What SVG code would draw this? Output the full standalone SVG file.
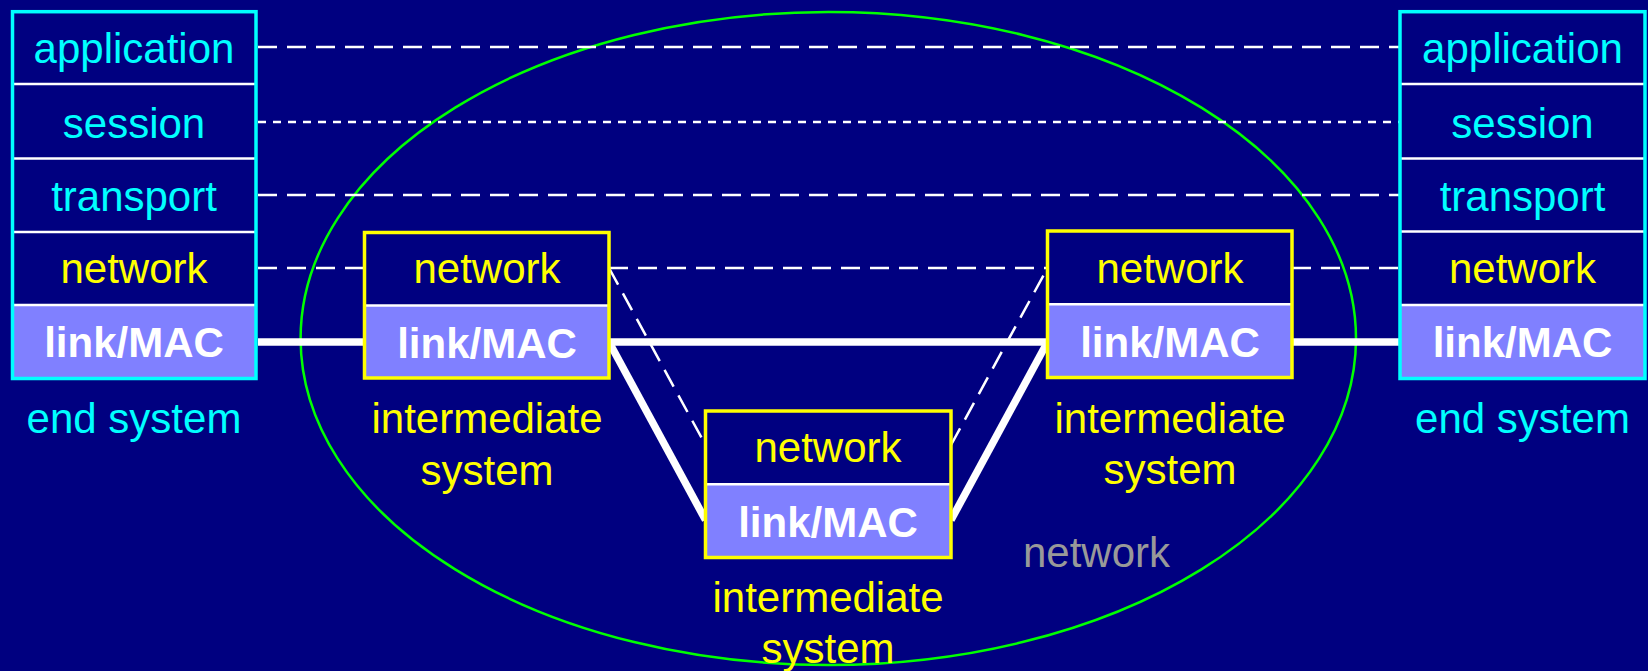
<svg xmlns="http://www.w3.org/2000/svg" width="1648" height="671" viewBox="0 0 1648 671">
<style>
text{font-family:"Liberation Sans",Arial,Helvetica,sans-serif;font-size:42px;text-anchor:middle}
.c{fill:#00ffff}
.y{fill:#ffff00}
.w{fill:#ffffff;font-weight:bold}
.g{fill:#999999}
.lnk{fill:#8080ff}
.div{stroke:#ffffff;stroke-width:2.5}
.eb{fill:none;stroke:#00ffff;stroke-width:3.5}
.ib{fill:none;stroke:#ffff00;stroke-width:3.5}
.dl{stroke:#ffffff;stroke-width:2.5;stroke-dasharray:19 10;fill:none}
.ds{stroke:#ffffff;stroke-width:2.5;stroke-dasharray:8 7;fill:none}
.sl{stroke:#ffffff;stroke-width:7.5;fill:none}
</style>
<rect width="1648" height="671" fill="#000080"/>
<ellipse id="network-cloud" cx="828.3" cy="338.5" rx="527.7" ry="326.5" fill="none" stroke="#00ff00" stroke-width="2.5"/>
<g id="connectors">
<line class="dl" x1="258" y1="47" x2="1400" y2="47"/>
<line class="ds" x1="258" y1="122" x2="1400" y2="122"/>
<line class="dl" x1="258" y1="195" x2="1400" y2="195"/>
<line class="dl" x1="258" y1="268" x2="364.5" y2="268"/>
<line class="dl" x1="609" y1="268" x2="1047.5" y2="268"/>
<line class="dl" x1="1292" y1="268" x2="1400" y2="268"/>
<line class="dl" x1="609" y1="268" x2="705.5" y2="445"/>
<line class="dl" x1="951" y1="445" x2="1047.5" y2="268"/>
<line class="sl" x1="258" y1="342" x2="364.5" y2="342"/>
<line class="sl" x1="609" y1="342" x2="1047.5" y2="342"/>
<line class="sl" x1="1292" y1="342" x2="1400" y2="342"/>
<line class="sl" x1="609" y1="342" x2="705.5" y2="520"/>
<line class="sl" x1="951" y1="520" x2="1047.5" y2="342"/>
</g>
<g id="end-system-left">
<rect class="lnk" x="12.5" y="305" width="243.5" height="73.5"/>
<line class="div" x1="12.5" y1="84" x2="256" y2="84"/>
<line class="div" x1="12.5" y1="158.5" x2="256" y2="158.5"/>
<line class="div" x1="12.5" y1="232" x2="256" y2="232"/>
<line class="div" x1="12.5" y1="305" x2="256" y2="305"/>
<rect class="eb" x="12.5" y="11.7" width="243.5" height="366.8"/>
<text class="c" x="134" y="63">application</text>
<text class="c" x="134" y="138">session</text>
<text class="c" x="134" y="211">transport</text>
<text class="y" x="134" y="283">network</text>
<text class="w" x="134" y="357">link/MAC</text>
<text class="c" x="134" y="433">end system</text>
</g>
<g id="intermediate-1">
<rect class="lnk" x="364.5" y="305.5" width="244.5" height="72.5"/>
<line class="div" x1="364.5" y1="305.5" x2="609" y2="305.5"/>
<rect class="ib" x="364.5" y="232.5" width="244.5" height="145.5"/>
<text class="y" x="487" y="283">network</text>
<text class="w" x="487" y="358">link/MAC</text>
<text class="y" x="487" y="433">intermediate</text>
<text class="y" x="487" y="485">system</text>
</g>
<g id="intermediate-2">
<rect class="lnk" x="705.5" y="484.3" width="245.5" height="73.2"/>
<line class="div" x1="705.5" y1="484.3" x2="951" y2="484.3"/>
<rect class="ib" x="705.5" y="411" width="245.5" height="146.5"/>
<text class="y" x="828" y="462.3">network</text>
<text class="w" x="828" y="536.7">link/MAC</text>
<text class="y" x="828" y="612.3">intermediate</text>
<text class="y" x="828" y="663">system</text>
</g>
<g id="intermediate-3">
<rect class="lnk" x="1047.5" y="304.3" width="244.5" height="73.2"/>
<line class="div" x1="1047.5" y1="304.3" x2="1292" y2="304.3"/>
<rect class="ib" x="1047.5" y="231" width="244.5" height="146.5"/>
<text class="y" x="1170" y="282.7">network</text>
<text class="w" x="1170" y="356.7">link/MAC</text>
<text class="y" x="1170" y="432.7">intermediate</text>
<text class="y" x="1170" y="484">system</text>
</g>
<g id="end-system-right">
<rect class="lnk" x="1400" y="305" width="245" height="73.5"/>
<line class="div" x1="1400" y1="84" x2="1645" y2="84"/>
<line class="div" x1="1400" y1="158.5" x2="1645" y2="158.5"/>
<line class="div" x1="1400" y1="231.5" x2="1645" y2="231.5"/>
<line class="div" x1="1400" y1="305" x2="1645" y2="305"/>
<rect class="eb" x="1400" y="11.7" width="245" height="366.8"/>
<text class="c" x="1522.5" y="63">application</text>
<text class="c" x="1522.5" y="138">session</text>
<text class="c" x="1522.5" y="211">transport</text>
<text class="y" x="1522.5" y="283">network</text>
<text class="w" x="1522.5" y="357">link/MAC</text>
<text class="c" x="1522.5" y="433">end system</text>
</g>
<g id="network-label">
<text class="g" x="1096.5" y="566.7">network</text>
</g>
</svg>
